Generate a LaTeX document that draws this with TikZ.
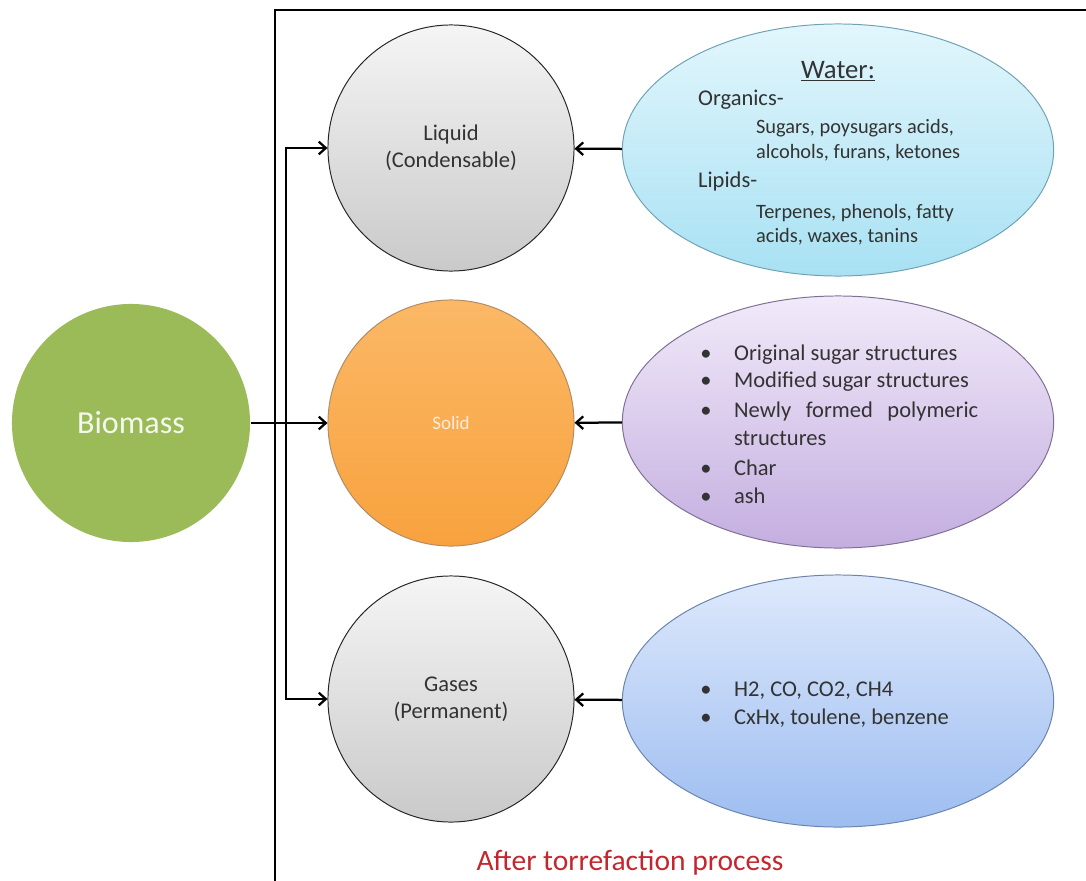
\documentclass[tikz,border=0pt]{standalone}
\usepackage{fontspec}
\setmainfont{Carlito}
\usetikzlibrary{arrows, arrows.meta, positioning, shapes.geometric}
\usepackage{xcolor}
\definecolor{txtgray}{HTML}{333333}
\definecolor{biogreen}{HTML}{9BBB59}
\definecolor{redtxt}{HTML}{C4262E}
\definecolor{watTop}{HTML}{E2F6FC}
\definecolor{watBot}{HTML}{A8E1F3}
\definecolor{watLine}{HTML}{6FA3B4}
\definecolor{solTop}{HTML}{F1EAF9}
\definecolor{solBot}{HTML}{C4AEE0}
\definecolor{solLine}{HTML}{7E7094}
\definecolor{gasTop}{HTML}{DEE9FC}
\definecolor{gasBot}{HTML}{9DBDF0}
\definecolor{gasLine}{HTML}{6A84AE}
\definecolor{orTop}{HTML}{FBB866}
\definecolor{orBot}{HTML}{F8A23E}

\begin{document}
\begin{tikzpicture}[x=0.025cm, y=-0.025cm, line width=1.6pt, >={Straight Barb[length=5pt,width=9pt]},
    main/.style = {draw=black!85, line width=0.7pt, circle, minimum size=6.15cm, inner sep=0pt, text=txtgray, align=center, font=\fontsize{16}{19}\selectfont},
    oval/.style = {draw, ellipse, line width=0.7pt, minimum width=10.78cm, minimum height=6.3cm, inner sep=0pt},
    head/.style = {anchor=base west, inner sep=0pt, text=txtgray, font=\fontsize{16}{19}\selectfont},
    sub/.style = {anchor=base west, inner sep=0pt, text=txtgray, font=\fontsize{14.5}{17}\selectfont},
    bul/.style = {anchor=base, inner sep=0pt, text=txtgray, font=\fontsize{16}{19}\selectfont}]
      \useasboundingbox (0,0) rectangle (1086,881);

      % frame
      \draw[line width=1.6pt] (1086,10) -- (275,10) -- (275,881);

      \node[circle, fill=biogreen, minimum size=5.95cm, inner sep=0pt, text=white!90!biogreen, font=\fontsize{22.8}{26}\selectfont] (bio) at (131,423) {Biomass};

      \node[main, top color=gray!8, bottom color=gray!42] (liq) at (451,148) {Liquid\\(Condensable)};
      \node[main, draw=orange!50!black!60, top color=orTop, bottom color=orBot, text=white!85!orange, font=\fontsize{13.5}{15}\selectfont] (sol) at (451,423) {Solid};
      \node[main, top color=gray!8, bottom color=gray!42] (gas) at (451,699) {Gases\\(Permanent)};

      \node[oval, draw=watLine, top color=watTop, bottom color=watBot] (wat) at (838,150) {};
      \node[oval, draw=solLine, top color=solTop, bottom color=solBot] (solid2) at (838,422) {};
      \node[oval, draw=gasLine, top color=gasTop, bottom color=gasBot] (gas2) at (838,701) {};

      % water text
      \node[anchor=base, inner sep=0pt, text=txtgray, font=\fontsize{19}{22}\selectfont] (wtitle) at (838,78) {\underline{Water:}};
      \node[head] (org)  at (697,105) {Organics-};
      \node[sub]  (orgA) at (755,133) {Sugars, poysugars acids,};
      \node[sub]  (orgB) at (755,158) {alcohols, furans, ketones};
      \node[head] (lip)  at (697,187) {Lipids-};
      \node[sub]  (lipA) at (755,218) {Terpenes, phenols, fatty};
      \node[sub]  (lipB) at (755,242) {acids, waxes, tanins};

      % solid text
      \node[bul]  (b1) at (706,360) {\textbullet};
      \node[head] (s1) at (733,360) {Original sugar structures};
      \node[bul]  (b2) at (706,387) {\textbullet};
      \node[head] (s2) at (733,387) {Modified sugar structures};
      \node[bul]  (b3) at (706,417) {\textbullet};
      \node[head] (s3) at (733,417) {\makebox[6.1cm][s]{Newly formed polymeric}};
      \node[head] (s4) at (733,445) {structures};
      \node[bul]  (b5) at (706,475) {\textbullet};
      \node[head] (s5) at (733,475) {Char};
      \node[bul]  (b6) at (706,503) {\textbullet};
      \node[head] (s6) at (733,503) {ash};

      % gas text
      \node[bul]  (g1b) at (706,696) {\textbullet};
      \node[head] (g1)  at (733,696) {H2, CO, CO2, CH4};
      \node[bul]  (g2b) at (706,724) {\textbullet};
      \node[head] (g2)  at (733,724) {CxHx, toulene, benzene};

      \node[anchor=base, inner sep=0pt, text=redtxt, font=\fontsize{21}{24}\selectfont] (after) at (630,870) {After torrefaction process};

      \coordinate (split) at (286,423);
      \draw[->] (bio) -- (sol);
      \draw[->] (split) |- (liq);
      \draw[->] (split) |- (gas);
      \draw[->] (wat) -- (liq);
      \draw[->] (solid2) -- (sol);
      \draw[->] (gas2) -- (gas);

    \end{tikzpicture}
\end{document}
